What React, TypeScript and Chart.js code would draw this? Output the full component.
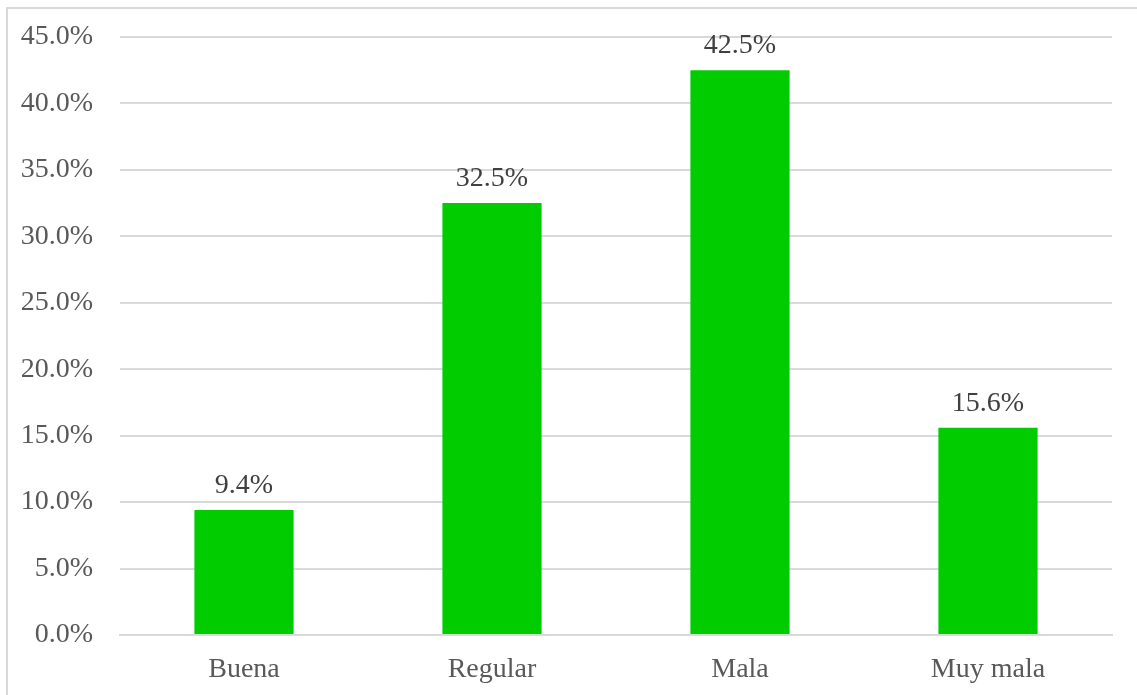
import React, { useEffect, useRef } from "react";
import { Chart, registerables } from "chart.js";

Chart.register(...registerables);

const categories = ["Buena", "Regular", "Mala", "Muy mala"];
const values = [9.4, 32.5, 42.5, 15.6];
const yTicks = [0, 5, 10, 15, 20, 25, 30, 35, 40, 45];

const FONT = "'Liberation Serif', 'Times New Roman', serif";
const FS = 28;

const labelPlugin = {
  id: "barLabels",
  afterDatasetsDraw(chart: any) {
    const ctx = chart.ctx;
    const meta = chart.getDatasetMeta(0);
    ctx.save();
    ctx.font = `${FS}px ${FONT}`;
    ctx.fillStyle = "#404040";
    ctx.textAlign = "center";
    ctx.textBaseline = "alphabetic";
    meta.data.forEach((bar: any, i: number) => {
      ctx.fillText(values[i].toFixed(1) + "%", bar.x, bar.y - 17);
    });
    ctx.restore();
  },
};

export default function App() {
  const ref = useRef<HTMLCanvasElement>(null);
  useEffect(() => {
    if (!ref.current) return;
    const chart = new Chart(ref.current, {
      type: "bar",
      data: {
        labels: categories,
        datasets: [
          {
            data: values,
            backgroundColor: "#00CC00",
            barPercentage: 0.4,
            categoryPercentage: 1,
          },
        ],
      },
      options: {
        animation: false,
        responsive: false,
        maintainAspectRatio: false,
        layout: { padding: { top: 37, right: 25, bottom: 0, left: 0 } },
        plugins: { legend: { display: false }, tooltip: { enabled: false } },
        scales: {
          x: {
            grid: { display: false, drawTicks: false },
            border: { display: true, color: "#d9d9d9", width: 2 },
            ticks: { color: "#595959", font: { family: FONT, size: FS }, padding: 18 },
            afterFit: (s: any) => { s.height = 60; },
          },
          y: {
            min: 0,
            max: 45,
            afterBuildTicks: (s: any) => { s.ticks = yTicks.map((v) => ({ value: v })); },
            grid: { color: "#d9d9d9", lineWidth: 2, drawTicks: false },
            border: { display: false },
            ticks: {
              color: "#595959",
              font: { family: FONT, size: FS, lineHeight: 0.5 },
              padding: 27,
              callback: (v: any) => Number(v).toFixed(1) + "%",
            },
            afterFit: (s: any) => { s.width = 120; },
          },
        },
      },
      plugins: [labelPlugin],
    });
    return () => chart.destroy();
  }, []);
  return (
    <div style={{ position: "fixed", left: 0, top: 0, width: 1137, height: 695, background: "#fff", overflow: "hidden" }}>
      <div style={{ position: "absolute", left: 6, top: 7, width: 1200, height: 800, border: "2px solid #d9d9d9", boxSizing: "border-box" }} />
      <canvas ref={ref} width={1137} height={695} style={{ position: "absolute", left: 0, top: 0 }} />
    </div>
  );
}
